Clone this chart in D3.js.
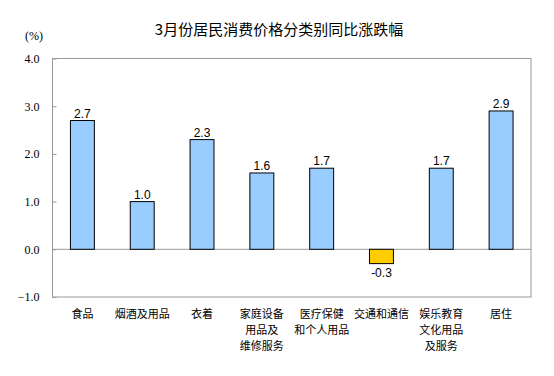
<!DOCTYPE html>
<html lang="zh">
<head>
  <meta charset="utf-8">
  <title>3月份居民消费价格分类别同比涨跌幅</title>
  <script src="https://d3js.org/d3.v7.min.js"></script>
  <style>
    html, body { margin:0; padding:0; background:#fff; }
    svg { display:block; }
  </style>
</head>
<body>
  <div id="chart"></div>
  <script>
    // ─── Data ────────────────────────────────────────────────────────────────
    const categories = [
      ["食品"],
      ["烟酒及用品"],
      ["衣着"],
      ["家庭设备", "用品及", "维修服务"],
      ["医疗保健", "和个人用品"],
      ["交通和通信"],
      ["娱乐教育", "文化用品", "及服务"],
      ["居住"]
    ];
    const values = [2.7, 1.0, 2.3, 1.6, 1.7, -0.3, 1.7, 2.9];
    const yTicks = [-1, 0, 1, 2, 3, 4];
    const title = "3月份居民消费价格分类别同比涨跌幅";
    const unitLabel = "(%)";
    // ─────────────────────────────────────────────────────────────────────────

    const width = 554, height = 376;
    const margin = { top: 58.5, right: 23, bottom: 79, left: 52.5 };
    const w = width - margin.left - margin.right;
    const h = height - margin.top - margin.bottom;

    const svg = d3.select("#chart").append("svg")
      .attr("width", width).attr("height", height);

    const g = svg.append("g")
      .attr("transform", `translate(${margin.left},${margin.top})`);

    const x = d3.scaleBand()
      .domain(d3.range(values.length))
      .range([0, w])
      .paddingInner(0.6).paddingOuter(0.3);

    const y = d3.scaleLinear().domain([-1, 4]).range([h, 0]);

    // title + unit
    svg.append("text")
      .attr("x", 279).attr("y", 35)
      .attr("text-anchor", "middle")
      .style("font-family", "'Noto Sans CJK SC', sans-serif")
      .style("font-size", "15px")
      .text(title);

    svg.append("text")
      .attr("x", 25).attr("y", 40)
      .style("font-family", "'Liberation Serif', serif")
      .style("font-size", "12px")
      .text(unitLabel);

    // frame
    g.append("rect")
      .attr("x", 0).attr("y", 0).attr("width", w).attr("height", h)
      .attr("fill", "none").attr("stroke", "#999");

    // y axis (ticks inside)
    const yAxis = g.append("g")
      .call(d3.axisLeft(y).tickValues(yTicks).tickSize(-4).tickPadding(13)
        .tickFormat(d3.format(".1f")));
    yAxis.select(".domain").remove();
    yAxis.selectAll("line").attr("stroke", "#999");
    yAxis.selectAll("text")
      .style("font-family", "'Liberation Serif', serif")
      .style("font-size", "12px")
      .attr("fill", "#000");

    // zero line
    g.append("line")
      .attr("x1", 0).attr("x2", w)
      .attr("y1", y(0)).attr("y2", y(0))
      .attr("stroke", "#999");

    // bars
    g.selectAll("rect.bar")
      .data(values)
      .join("rect")
      .attr("class", "bar")
      .attr("x", (d, i) => x(i))
      .attr("width", x.bandwidth())
      .attr("y", d => y(Math.max(0, d)))
      .attr("height", d => Math.abs(y(d) - y(0)))
      .attr("fill", d => d < 0 ? "#FFCC00" : "#99CCFF")
      .attr("stroke", "#000")
      .attr("stroke-width", 1);

    // value labels
    g.selectAll("text.val")
      .data(values)
      .join("text")
      .attr("class", "val")
      .attr("x", (d, i) => x(i) + x.bandwidth() / 2)
      .attr("y", d => d < 0 ? y(d) + 13 : y(d) - 3)
      .attr("text-anchor", "middle")
      .style("font-family", "'Liberation Sans', Arial, sans-serif")
      .style("font-size", "12px")
      .text(d => d.toFixed(1));

    // category labels, one text per line
    categories.forEach((lines, i) => {
      g.selectAll(null)
        .data(lines)
        .join("text")
        .attr("x", x(i) + x.bandwidth() / 2)
        .attr("y", (d, k) => h + 21 + k * 16)
        .attr("text-anchor", "middle")
        .style("font-family", "'Noto Sans CJK SC', sans-serif")
        .style("font-size", "11px")
        .text(d => d);
    });
  </script>
</body>
</html>
